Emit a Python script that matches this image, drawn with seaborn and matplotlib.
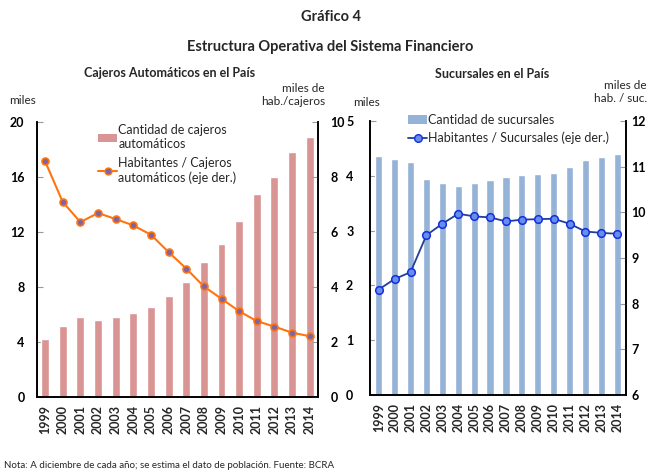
import numpy as np
import pandas as pd
import seaborn as sns
import matplotlib.pyplot as plt
from matplotlib.patches import Patch
from matplotlib.lines import Line2D

# Datos
anios = [str(a) for a in range(1999, 2015)]
cajeros = [4.25, 5.16, 5.82, 5.6, 5.82, 6.1, 6.52, 7.35, 8.39, 9.8,
           11.15, 12.8, 14.74, 15.98, 17.85, 18.9]
hab_cajeros = [8.57, 7.09, 6.36, 6.69, 6.47, 6.24, 5.9, 5.27, 4.67, 4.02,
               3.57, 3.12, 2.76, 2.56, 2.34, 2.21]
sucursales = [4.37, 4.30, 4.26, 3.95, 3.87, 3.81, 3.87, 3.92, 3.98, 4.01,
              4.03, 4.06, 4.16, 4.28, 4.34, 4.40]
hab_sucursales = [8.31, 8.54, 8.69, 9.50, 9.75, 9.97, 9.91, 9.89, 9.80, 9.84,
                  9.85, 9.86, 9.75, 9.58, 9.55, 9.53]

df = pd.DataFrame({"anio": anios, "cajeros": cajeros, "hab_cajeros": hab_cajeros,
                   "sucursales": sucursales, "hab_sucursales": hab_sucursales})

sns.set_theme(style="white")
plt.rcParams["font.family"] = ["Lato", "DejaVu Sans"]

fig = plt.figure(figsize=(6.48, 4.71), dpi=100)
W, H = 648, 471


def px_axes(x0, y0, x1, y1):
    return fig.add_axes([x0 / W, 1 - y1 / H, (x1 - x0) / W, (y1 - y0) / H])


def estilo(ax, ax2, yt1, yt2, pad_izq, pad_der):
    ax.set_yticks(yt1, [str(v) for v in yt1], fontweight="bold", fontsize=9)
    ax2.set_yticks(yt2, [str(v) for v in yt2], fontweight="bold", fontsize=9)
    ax.set_xticks(range(len(anios)), anios, rotation=90, fontweight="bold",
                  fontsize=9)
    for a in (ax, ax2):
        a.spines["top"].set_visible(False)
        for s in ("left", "right", "bottom"):
            a.spines[s].set_color("black")
            a.spines[s].set_linewidth(1.2)
        a.tick_params(axis="y", direction="in", length=4, width=0.8,
                      color="#999999", labelcolor="black")
    ax.tick_params(axis="y", pad=pad_izq)
    ax2.tick_params(axis="y", pad=pad_der)
    ax.tick_params(axis="x", length=0, pad=6)
    ax.set_xlabel("")
    ax.set_ylabel("")
    ax2.set_ylabel("")


# Panel izquierdo: cajeros
color_caj = "#D99594"
naranja = "#FF7410"
ax1 = px_axes(37, 122, 318, 397)
sns.barplot(data=df, x="anio", y="cajeros", color=color_caj, width=0.45,
            saturation=1, ax=ax1)
ax1.set_ylim(0, 20)
ax1.set_xlim(-0.46, 15.47)
ax1b = ax1.twinx()
sns.lineplot(data=df, x="anio", y="hab_cajeros", ax=ax1b, color=naranja,
             linewidth=1.5, marker="o", markersize=5,
             markerfacecolor="#8064A2", markeredgecolor=naranja,
             markeredgewidth=1.2, sort=False)
ax1b.set_ylim(0, 10)
ax1b.set_xlim(-0.46, 15.47)
estilo(ax1, ax1b, [0, 4, 8, 12, 16, 20], [0, 2, 4, 6, 8, 10], 9, 9)

h1 = [Patch(facecolor=color_caj, edgecolor="none"),
      Line2D([], [], color=naranja, lw=1.5, marker="o", markersize=5,
             markerfacecolor="#8064A2", markeredgecolor=naranja)]
ax1b.legend(h1, ["Cantidad de cajeros\nautomáticos",
                 "Habitantes / Cajeros\nautomáticos (eje der.)"],
            loc="upper left", bbox_to_anchor=(0.2, 1.01), frameon=False,
            fontsize=9, handlelength=1.5, handletextpad=0.1,
            labelspacing=0.55, borderaxespad=0)

# Panel derecho: sucursales
color_suc = "#95B3D7"
azul = "#1F3F99"
ax2 = px_axes(370, 121, 626, 395)
sns.barplot(data=df, x="anio", y="sucursales", color=color_suc, width=0.45,
            saturation=1, ax=ax2)
ax2.set_ylim(0, 5)
ax2.set_xlim(-0.55, 15.55)
ax2b = ax2.twinx()
sns.lineplot(data=df, x="anio", y="hab_sucursales", ax=ax2b, color=azul,
             linewidth=1.3, marker="o", markersize=5.5,
             markerfacecolor="#6A8CEB", markeredgecolor="#1030E0",
             markeredgewidth=1.1, sort=False)
ax2b.set_ylim(6, 12)
ax2b.set_xlim(-0.55, 15.55)
estilo(ax2, ax2b, [0, 1, 2, 3, 4, 5], [6, 7, 8, 9, 10, 11, 12], 12, 4)

h2 = [Patch(facecolor=color_suc, edgecolor="none"),
      Line2D([], [], color=azul, lw=1.3, marker="o", markersize=5.5,
             markerfacecolor="#6A8CEB", markeredgecolor="#1030E0")]
ax2b.legend(h2, ["Cantidad de sucursales", "Habitantes / Sucursales (eje der.)"],
            loc="upper left", bbox_to_anchor=(0.13, 1.045), frameon=False,
            fontsize=9, handlelength=1.5, handletextpad=0.1,
            labelspacing=0.5, borderaxespad=0)

# Textos
fig.text(331 / W, 1 - 17 / H, "Gráfico 4", ha="center", va="center",
         fontsize=10.5, fontweight="bold")
fig.text(330 / W, 1 - 47 / H, "Estructura Operativa del Sistema Financiero",
         ha="center", va="center", fontsize=10.5, fontweight="bold")
fig.text(170 / W, 1 - 73 / H, "Cajeros Automáticos en el País",
         ha="center", va="center", fontsize=9, fontweight="bold")
fig.text(492 / W, 1 - 74 / H, "Sucursales en el País",
         ha="center", va="center", fontsize=9, fontweight="bold")
fig.text(9 / W, 1 - 101 / H, "miles", ha="left", va="center", fontsize=8.5)
fig.text(325 / W, 1 - 95 / H, "miles de\nhab./cajeros", ha="right",
         va="center", fontsize=8.5, linespacing=1.15)
fig.text(353 / W, 1 - 102 / H, "miles", ha="left", va="center", fontsize=8.5)
fig.text(647 / W, 1 - 92 / H, "miles de\nhab. / suc.", ha="right",
         va="center", fontsize=8.5, linespacing=1.15)
fig.text(4 / W, 1 - 465 / H,
         "Nota: A diciembre de cada año; se estima el dato de población. Fuente: BCRA",
         ha="left", va="center", fontsize=7)

fig.savefig("out.png", dpi=100)
